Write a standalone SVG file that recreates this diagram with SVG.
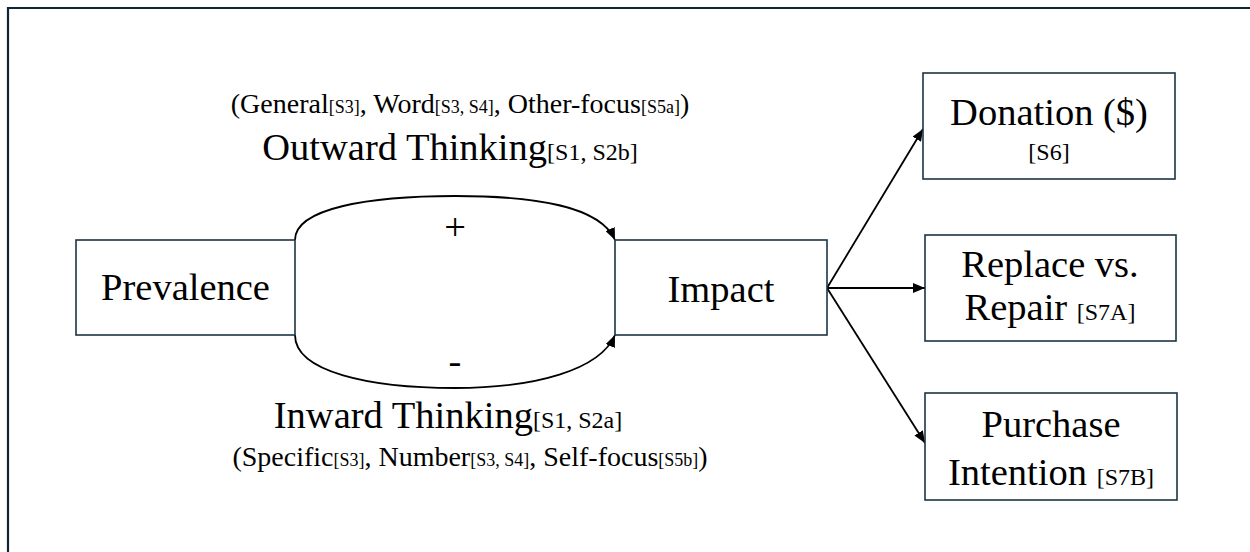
<svg xmlns="http://www.w3.org/2000/svg" width="1250" height="552" viewBox="0 0 1250 552">
<style>
.t{font-family:"Liberation Serif","Times New Roman",serif;fill:#000}
.box{fill:#fff;stroke:#1b3544;stroke-width:1.6}
.big{font-size:38.5px}
.mid{font-size:24px}
.sm{font-size:28px}
.sub{font-size:18px}
.ln{fill:none;stroke:#000;stroke-width:1.8}
</style>
<defs>
<marker id="ah" viewBox="0 0 12 10" refX="12" refY="5" markerWidth="12" markerHeight="10" markerUnits="userSpaceOnUse" orient="auto">
<path d="M0,0 L12,5 L0,10 z" fill="#000"/>
</marker>
</defs>
<rect x="0" y="0" width="1250" height="552" fill="#fff"/>
<path d="M8,560 L8,8 L1260,8" fill="none" stroke="#0f2633" stroke-width="2.2"/>

<g id="connectors">
<path class="ln" d="M295,240 C295,208 370,196 455,196 C535,196 600,206 615,240" marker-end="url(#ah)"/>
<path class="ln" d="M295,335 C295,372 370,388 455,388 C535,388 600,370 615,335" marker-end="url(#ah)"/>
<line class="ln" x1="827" y1="288" x2="923" y2="129" marker-end="url(#ah)"/>
<line class="ln" x1="827" y1="288" x2="925" y2="288" marker-end="url(#ah)"/>
<line class="ln" x1="827" y1="288" x2="925" y2="443" marker-end="url(#ah)"/>
</g>

<g id="prevalence">
<rect class="box" x="76" y="240" width="219" height="95"/>
<text class="t big" x="185.5" y="300" text-anchor="middle">Prevalence</text>
</g>
<g id="impact">
<rect class="box" x="615" y="240" width="212" height="95"/>
<text class="t big" x="721" y="302" text-anchor="middle">Impact</text>
</g>
<g id="donation">
<rect class="box" x="923" y="73" width="252" height="106"/>
<text class="t big" x="1049" y="125" text-anchor="middle">Donation ($)</text>
<text class="t mid" x="1049" y="160" text-anchor="middle">[S6]</text>
</g>
<g id="replace">
<rect class="box" x="925" y="235" width="251" height="106"/>
<text class="t big" x="1050" y="277" text-anchor="middle">Replace vs.</text>
<text class="t" x="1050" y="320" text-anchor="middle"><tspan class="big">Repair </tspan><tspan class="mid">[S7A]</tspan></text>
</g>
<g id="purchase">
<rect class="box" x="925" y="393" width="252" height="107"/>
<text class="t big" x="1051" y="437" text-anchor="middle">Purchase</text>
<text class="t" x="1051" y="485" text-anchor="middle"><tspan class="big">Intention </tspan><tspan class="mid">[S7B]</tspan></text>
</g>

<g id="outward-label">
<text class="t" x="460" y="113" text-anchor="middle"><tspan class="sm">(General</tspan><tspan class="sub">[S3]</tspan><tspan class="sm">, Word</tspan><tspan class="sub">[S3, S4]</tspan><tspan class="sm">, Other-focus</tspan><tspan class="sub">[S5a]</tspan><tspan class="sm">)</tspan></text>
<text class="t" x="450" y="160" text-anchor="middle"><tspan class="big">Outward Thinking</tspan><tspan class="mid">[S1, S2b]</tspan></text>
<text class="t big" x="455" y="240" text-anchor="middle">+</text>
</g>
<g id="inward-label">
<text class="t big" x="455" y="374" text-anchor="middle">-</text>
<text class="t" x="448" y="428" text-anchor="middle"><tspan class="big">Inward Thinking</tspan><tspan class="mid">[S1, S2a]</tspan></text>
<text class="t" x="470" y="466" text-anchor="middle"><tspan class="sm">(Specific</tspan><tspan class="sub">[S3]</tspan><tspan class="sm">, Number</tspan><tspan class="sub">[S3, S4]</tspan><tspan class="sm">, Self-focus</tspan><tspan class="sub">[S5b]</tspan><tspan class="sm">)</tspan></text>
</g>
</svg>
